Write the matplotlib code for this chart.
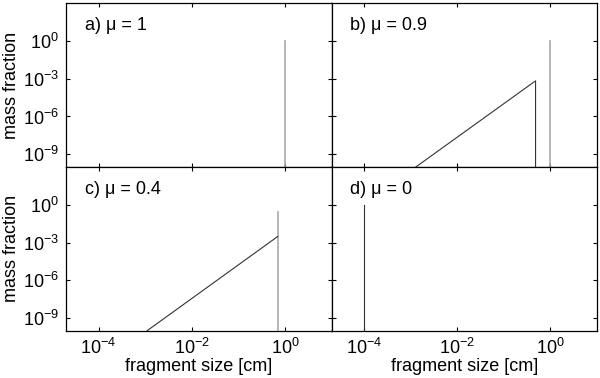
import matplotlib
matplotlib.use("Agg")
import matplotlib.pyplot as plt

plt.rcParams['font.family'] = ['Liberation Sans', 'DejaVu Sans']

# panel labels
labels = ["a) \u03bc = 1", "b) \u03bc = 0.9", "c) \u03bc = 0.4", "d) \u03bc = 0"]

# power-law tails (black) for each panel: x [cm], mass fraction
tail_x = {1: [1.3e-3, 0.48, 0.48], 2: [1.1e-3, 0.7]}
tail_y = {1: [1e-10, 6.7e-4, 1e-10], 2: [1e-10, 3e-3]}

# monodisperse spikes (grey): position, top value
spike_x = {0: 1.0, 1: 1.0, 2: 0.7}
spike_top = {0: 1.0, 1: 0.9, 2: 0.28}

# pure dust case (d): single black spike
dust_x = 1e-4
dust_top = 1.0

x_ticks = [1e-4, 1e-2, 1e0]
y_ticks = [1e0, 1e-3, 1e-6, 1e-9]

fig, axes = plt.subplots(2, 2, figsize=(6, 3.78), dpi=100, sharex=True, sharey=True)
fig.subplots_adjust(left=0.11, right=0.995, top=0.992, bottom=0.125, wspace=0, hspace=0)

for i, ax in enumerate(axes.flat):
    if i in spike_x:
        ax.plot([spike_x[i], spike_x[i]], [1e-12, spike_top[i]], color='#aaaaaa', lw=1.2)
    if i in tail_x:
        ax.plot(tail_x[i], tail_y[i], color='#333333', lw=0.8)
    if i == 3:
        ax.plot([dust_x, dust_x], [1e-12, dust_top], color='#333333', lw=0.8)

    ax.set_xscale('log')
    ax.set_yscale('log')
    ax.set_xlim(2e-5, 10)
    ax.set_ylim(1e-10, 1e3)
    ax.set_xticks(x_ticks)
    ax.set_yticks(y_ticks)
    ax.minorticks_off()
    ax.tick_params(direction='in', top=True, right=True, length=3, labelsize=13, pad=5)
    ax.tick_params(axis='x', pad=5)
    ax.text(0.07, 0.86, labels[i], transform=ax.transAxes, fontsize=13, va='center')
    for s in ax.spines.values():
        s.set_linewidth(0.9)

for ax in axes[:, 0]:
    ax.set_ylabel("mass fraction", fontsize=13, labelpad=2)
for ax in axes[1, :]:
    ax.set_xlabel("fragment size [cm]", fontsize=13, labelpad=0)

plt.savefig("out.png", dpi=100)
